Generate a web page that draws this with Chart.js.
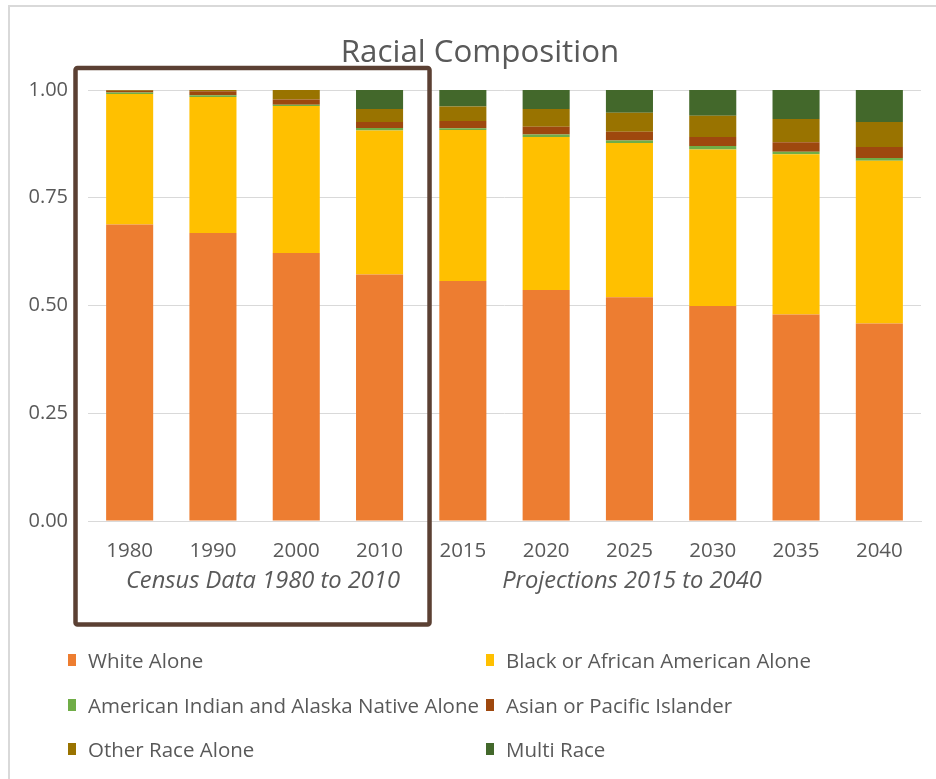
<!DOCTYPE html>
<html>
<head>
<meta charset="utf-8">
<script src="https://cdn.jsdelivr.net/npm/chart.js@4/dist/chart.umd.min.js"></script>
<style>
  html, body { margin:0; padding:0; background:#fff; }
  #wrap { position:relative; width:936px; height:779px; overflow:hidden; font-family:"Open Sans", sans-serif; color:#595959; }
  #frame { position:absolute; left:8px; top:5px; width:940px; height:790px; border-top:2px solid #d9d9d9; border-left:2px solid #d9d9d9; }
  #title { position:absolute; left:0; width:960px; top:30px; text-align:center; font-size:31.3px; line-height:40px; }
  canvas { position:absolute; left:0; top:0; }
  .lg { position:absolute; font-size:20.5px; line-height:24px; white-space:nowrap; }
  .lg i { position:absolute; left:-20px; top:6px; width:8px; height:12px; }
</style>
</head>
<body>
<div id="wrap">
  <div id="frame"></div>
  <canvas id="c" width="936" height="779"></canvas>
  <div id="title">Racial Composition</div>
  <div id="legend"></div>
</div>
<script>
const categories = ['1980','1990','2000','2010','2015','2020','2025','2030','2035','2040'];
const whiteAlone  = [0.688, 0.668, 0.622, 0.572, 0.557, 0.536, 0.519, 0.499, 0.479, 0.458];
const blackAlone  = [0.303, 0.316, 0.341, 0.334, 0.350, 0.355, 0.358, 0.363, 0.372, 0.378];
const aianAlone   = [0.003, 0.004, 0.003, 0.006, 0.004, 0.006, 0.006, 0.008, 0.006, 0.006];
const asianPI     = [0.004, 0.009, 0.012, 0.014, 0.017, 0.018, 0.020, 0.021, 0.022, 0.026];
const otherRace   = [0.002, 0.003, 0.022, 0.030, 0.034, 0.041, 0.044, 0.049, 0.054, 0.058];
const multiRace   = [0.000, 0.000, 0.000, 0.044, 0.038, 0.044, 0.053, 0.060, 0.067, 0.074];
const yTickValues = [0, 0.25, 0.5, 0.75, 1.0];
const groupLabels = ['Census Data 1980 to 2010', 'Projections 2015 to 2040'];
const seriesNames = ['White Alone','Black or African American Alone','American Indian and Alaska Native Alone','Asian or Pacific Islander','Other Race Alone','Multi Race'];
const seriesColors = ['#ED7D31','#FFC000','#70AD47','#9E480E','#997300','#43682B'];
const seriesData = [whiteAlone, blackAlone, aianAlone, asianPI, otherRace, multiRace];

const TEXT = '#595959';
const FONT = '"Open Sans", sans-serif';

const datasets = seriesNames.map((n, i) => ({
  label: n, data: seriesData[i], backgroundColor: seriesColors[i],
  borderWidth: 0, categoryPercentage: 1.0, barPercentage: 0.565
}));

const extras = {
  id: 'extras',
  afterDraw(chart) {
    const ctx = chart.ctx, x = chart.scales.x, y = chart.scales.y;
    const step = x.getPixelForValue(1) - x.getPixelForValue(0);
    ctx.save();
    ctx.fillStyle = TEXT;
    ctx.font = 'italic 23.7px ' + FONT;
    ctx.textAlign = 'center';
    ctx.textBaseline = 'middle';
    ctx.fillText(groupLabels[0], x.getPixelForValue(1.6), 581);
    ctx.fillText(groupLabels[1], x.getPixelForValue(6.03), 581);
    // census box
    const left = x.getPixelForValue(0) - step * 0.65;
    const right = x.getPixelForValue(3) + step * 0.6;
    ctx.strokeStyle = '#5B4033';
    ctx.lineWidth = 4.5;
    ctx.lineJoin = 'round';
    ctx.beginPath();
    ctx.roundRect(left, y.top - 22, right - left, 624.5 - (y.top - 22), 2);
    ctx.stroke();
    ctx.restore();
  }
};

new Chart(document.getElementById('c'), {
  type: 'bar',
  data: { labels: categories, datasets },
  plugins: [extras],
  options: {
    responsive: false, animation: false,
    layout: { padding: { left: 0, right: 15, top: 90, bottom: 198 } },
    plugins: { legend: { display: false }, title: { display: false }, tooltip: { enabled: false } },
    scales: {
      x: {
        stacked: true,
        grid: { display: false, drawTicks: false },
        border: { display: true, color: '#d9d9d9', width: 1 },
        ticks: { color: TEXT, font: { family: FONT, size: 20.5 }, padding: 18 },
        afterFit(s) { s.height = 60; }
      },
      y: {
        stacked: true, min: 0, max: 1,
        afterBuildTicks(s) { s.ticks = yTickValues.map(v => ({ value: v })); },
        grid: { color: '#d9d9d9', lineWidth: 1, drawTicks: false },
        border: { display: false },
        ticks: { color: TEXT, font: { family: FONT, size: 20 }, padding: 20, callback: v => Number(v).toFixed(2) },
        afterFit(s) { s.width = 88; }
      }
    }
  }
});

const legendPos = [[88,648],[506,648],[88,693],[506,693],[88,737],[506,737]];
const lg = document.getElementById('legend');
seriesNames.forEach((n, i) => {
  const d = document.createElement('div');
  d.className = 'lg';
  d.style.left = legendPos[i][0] + 'px';
  d.style.top = legendPos[i][1] + 'px';
  d.innerHTML = '<i style="background:' + seriesColors[i] + '"></i>' + n;
  lg.appendChild(d);
});
</script>
</body>
</html>
